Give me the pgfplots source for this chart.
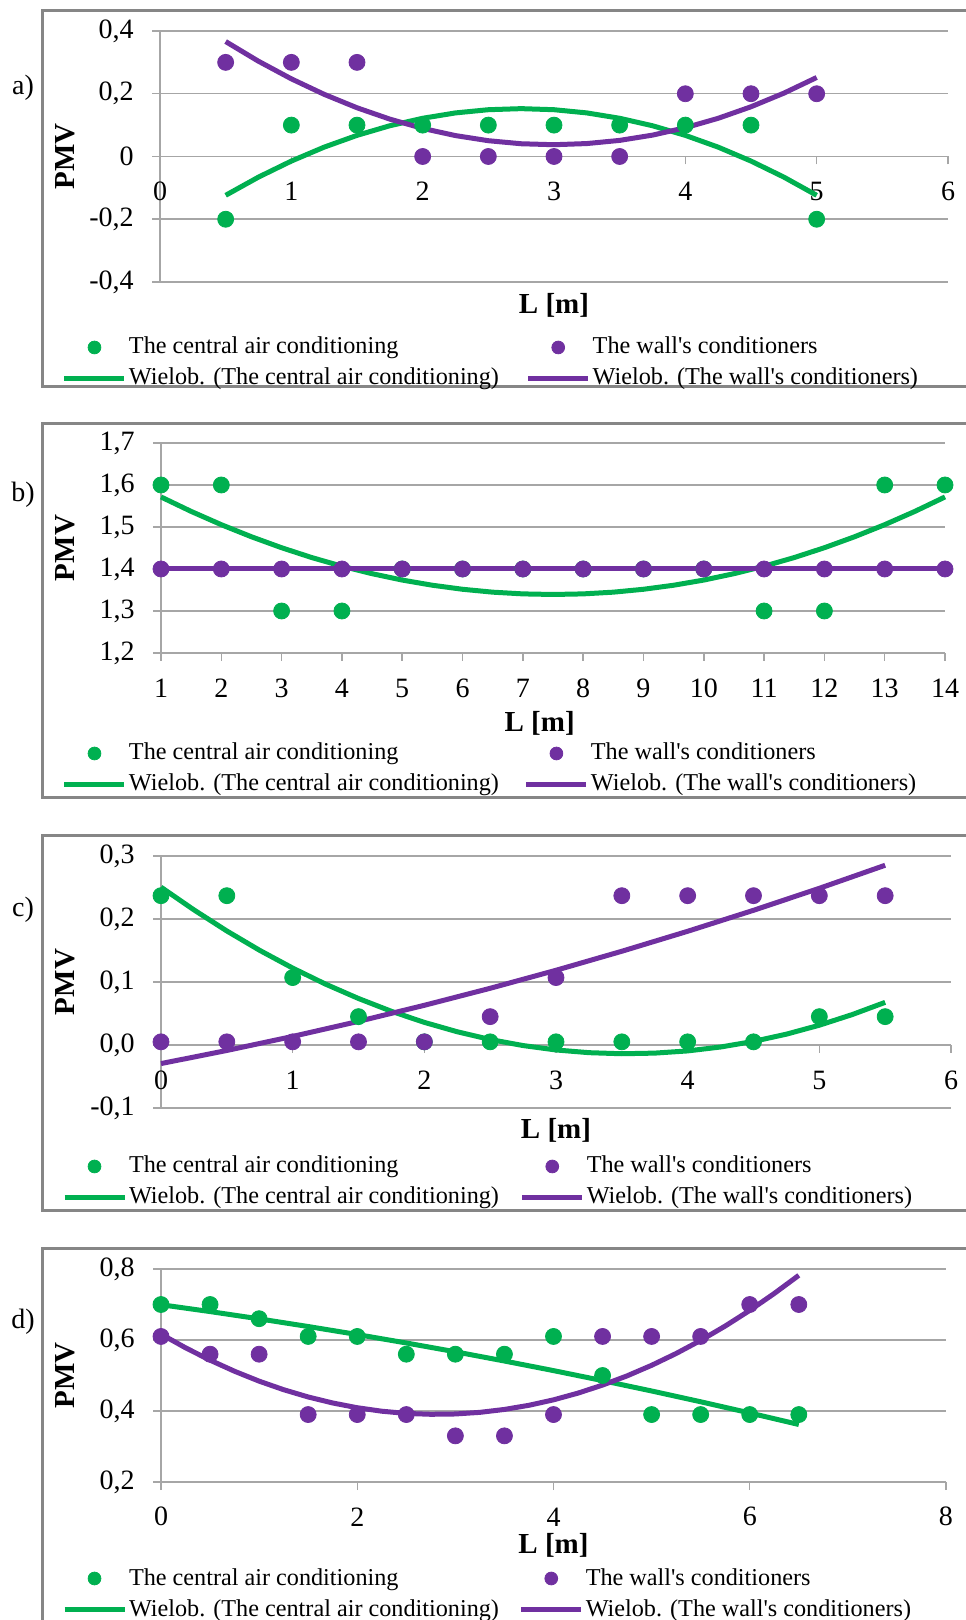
\documentclass[border=0pt]{standalone}
\usepackage{pgfplots}
\pgfplotsset{compat=1.18}
\usepackage{fontspec}
\setmainfont{Liberation Serif}
\definecolor{cgreen}{RGB}{0,176,80}
\definecolor{cpurple}{RGB}{112,48,160}
\definecolor{gridgray}{RGB}{166,166,166}
\definecolor{framegray}{RGB}{134,134,134}
\pgfplotsset{
 panel/.style={
  scale only axis, anchor=south west, clip=false,
  axis line style={draw=gridgray, line width=0.75pt, -},
  ymajorgrids, grid style={draw=gridgray, line width=0.75pt},
  tick align=outside, major tick length=4pt,
  major tick style={draw=gridgray, line width=0.75pt},
  minor tick num=0,
  tick label style={font=\fontsize{14}{16}\selectfont},
  yticklabel style={anchor=east, inner sep=0pt, xshift=-9pt},
  xticklabel style={anchor=center, inner sep=0pt},
  label style={font=\bfseries\fontsize{14.5}{16}\selectfont},
  xlabel style={inner sep=0pt},
  legend columns=2, legend cell align=left,
  legend image code/.code={\draw[mark repeat=2,mark phase=2,#1] plot coordinates {(0pt,0pt)(15pt,0pt)(30pt,0pt)};},
  legend style={draw=none, fill=none, inner sep=0pt, outer sep=0pt, anchor=north west,
    font=\fontsize{12.1}{14}\selectfont,
    nodes={inner sep=1pt, text height=10pt, text depth=3.5pt},
    row sep=0pt},
  hide obscured x ticks=false, hide obscured y ticks=false,
 },
 dots/.style={only marks, mark=*, mark size=4pt, legend image post style={mark size=3.2pt}},
 fit/.style={no marks, line width=2.5pt, line join=round},
 leg/.style={legend entries={The central air conditioning, The wall\textquotesingle s conditioners, Wielob. (The central air conditioning), Wielob. (The wall\textquotesingle s conditioners)}},
}
\begin{document}
\begin{tikzpicture}
\useasboundingbox (0,0) rectangle (482.5pt,810pt);
% frames
\draw[framegray, line width=1.5pt] (490pt,804.5pt) -- (21pt,804.5pt) -- (21pt,616.5pt) -- (490pt,616.5pt);
\draw[framegray, line width=1.5pt] (490pt,598pt) -- (21pt,598pt) -- (21pt,411pt) -- (490pt,411pt);
\draw[framegray, line width=1.5pt] (490pt,392pt) -- (21pt,392pt) -- (21pt,204.5pt) -- (490pt,204.5pt);
\draw[framegray, line width=1.5pt] (490pt,185.5pt) -- (21pt,185.5pt) -- (21pt,-10pt);
% panel letters
\node[font=\fontsize{14}{16}\selectfont] at (11.5pt,766pt) {a)};
\node[font=\fontsize{14}{16}\selectfont] at (11.5pt,562.5pt) {b)};
\node[font=\fontsize{14}{16}\selectfont] at (11.5pt,355pt) {c)};
\node[font=\fontsize{14}{16}\selectfont] at (11.5pt,149pt) {d)};

% ---------- a ----------
\begin{axis}[panel, leg, at={(80pt,669pt)}, width=394pt, height=125.5pt,
  xmin=0, xmax=6, ymin=-0.4, ymax=0.4,
  axis x line*=middle, axis y line*=left,
  xtick={0,1,2,3,4,5,6}, xticklabels={0,1,2,3,4,5,6},
  ytick={-0.4,-0.2,0,0.2,0.4}, yticklabels={{-0,4},{-0,2},{0},{0,2},{0,4}},
  xticklabel style={yshift=-13.5pt},
  xlabel={L [m]}, ylabel={PMV},
  xlabel style={at={(axis description cs:0.5,-0.0916)}, anchor=center},
  ylabel style={at={(axis description cs:-0.1206,0.5)}, anchor=center},
  legend style={at={(-0.1244,-0.1992)}, /tikz/every even column/.append style={column sep=12.4pt}},
]
\addplot[dots, cgreen] coordinates {(0.5,-0.2)(1,0.1)(1.5,0.1)(2,0.1)(2.5,0.1)(3,0.1)(3.5,0.1)(4,0.1)(4.5,0.1)(5,-0.2)};
\addplot[dots, cpurple] coordinates {(0.5,0.3)(1,0.3)(1.5,0.3)(2,0)(2.5,0)(3,0)(3.5,0)(4,0.2)(4.5,0.2)(5,0.2)};
\addplot[fit, cgreen] coordinates {(0.5,-0.1237)(0.75,-0.0657)(1,-0.0146)(1.25,0.0298)(1.5,0.0673)(1.75,0.0980)(2,0.1218)(2.25,0.1389)(2.5,0.1491)(2.75,0.1525)(3,0.1491)(3.25,0.1389)(3.5,0.1218)(3.75,0.0980)(4,0.0673)(4.25,0.0298)(4.5,-0.0146)(4.75,-0.0657)(5,-0.1237)};
\addplot[fit, cpurple] coordinates {(0.5,0.3664)(0.75,0.3036)(1,0.2475)(1.25,0.1981)(1.5,0.1553)(1.75,0.1191)(2,0.0895)(2.25,0.0666)(2.5,0.0503)(2.75,0.0406)(3,0.0375)(3.25,0.0412)(3.5,0.0513)(3.75,0.0681)(4,0.0917)(4.25,0.1217)(4.5,0.1585)(4.75,0.2018)(5,0.2518)};
\end{axis}

% ---------- b ----------
\begin{axis}[panel, leg, at={(80.5pt,483.5pt)}, width=392pt, height=105pt,
  xmin=1, xmax=14, ymin=1.2, ymax=1.7,
  axis x line*=bottom, axis y line*=left,
  xtick={1,...,14}, xticklabels={1,2,3,4,5,6,7,8,9,10,11,12,13,14},
  ytick={1.2,1.3,1.4,1.5,1.6,1.7}, yticklabels={{1,2},{1,3},{1,4},{1,5},{1,6},{1,7}},
  xticklabel style={yshift=-13.6pt},
  xlabel={L [m]}, ylabel={PMV},
  xlabel style={at={(axis description cs:0.483,-0.333)}, anchor=center},
  ylabel style={at={(axis description cs:-0.1224,0.5)}, anchor=center},
  legend style={at={(-0.1263,-0.4048)}, /tikz/every even column/.append style={column sep=11.5pt}},
]
\addplot[dots, cgreen] coordinates {(1,1.6)(2,1.6)(3,1.3)(4,1.3)(5,1.4)(6,1.4)(7,1.4)(8,1.4)(9,1.4)(10,1.4)(11,1.3)(12,1.3)(13,1.6)(14,1.6)};
\addplot[dots, cpurple] coordinates {(1,1.4)(2,1.4)(3,1.4)(4,1.4)(5,1.4)(6,1.4)(7,1.4)(8,1.4)(9,1.4)(10,1.4)(11,1.4)(12,1.4)(13,1.4)(14,1.4)};
\addplot[fit, cgreen] coordinates {(1,1.5715)(1.5,1.5371)(2,1.5055)(2.5,1.4767)(3,1.4506)(3.5,1.4272)(4,1.4066)(4.5,1.3888)(5,1.3736)(5.5,1.3613)(6,1.3517)(6.5,1.3448)(7,1.3407)(7.5,1.3393)(8,1.3407)(8.5,1.3448)(9,1.3517)(9.5,1.3613)(10,1.3736)(10.5,1.3888)(11,1.4066)(11.5,1.4272)(12,1.4506)(12.5,1.4767)(13,1.5055)(13.5,1.5371)(14,1.5715)};
\addplot[fit, cpurple] coordinates {(1,1.4)(14,1.4)};
\end{axis}

% ---------- c ----------
\begin{axis}[panel, leg, at={(80.5pt,256pt)}, width=395pt, height=126pt,
  xmin=0, xmax=6, ymin=-0.1, ymax=0.3,
  axis x line*=middle, axis y line*=left,
  xtick={0,1,2,3,4,5,6}, xticklabels={0,1,2,3,4,5,6},
  ytick={-0.1,0,0.1,0.2,0.3}, yticklabels={{-0,1},{0,0},{0,1},{0,2},{0,3}},
  xticklabel style={yshift=-13.5pt},
  xlabel={L [m]}, ylabel={PMV},
  xlabel style={at={(axis description cs:0.5,-0.0873)}, anchor=center},
  ylabel style={at={(axis description cs:-0.1215,0.5)}, anchor=center},
  legend style={at={(-0.1253,-0.1706)}, /tikz/every even column/.append style={column sep=9.4pt}},
]
\addplot[dots, cgreen] coordinates {(0,0.237)(0.5,0.237)(1,0.107)(1.5,0.045)(2,0.005)(2.5,0.005)(3,0.005)(3.5,0.005)(4,0.005)(4.5,0.005)(5,0.045)(5.5,0.045)};
\addplot[dots, cpurple] coordinates {(0,0.005)(0.5,0.005)(1,0.005)(1.5,0.005)(2,0.005)(2.5,0.045)(3,0.107)(3.5,0.237)(4,0.237)(4.5,0.237)(5,0.237)(5.5,0.237)};
\addplot[fit, cgreen] coordinates {(0,0.2505)(0.25,0.2145)(0.5,0.1810)(0.75,0.1502)(1,0.1221)(1.25,0.0966)(1.5,0.0738)(1.75,0.0535)(2,0.0359)(2.25,0.0210)(2.5,0.0087)(2.75,-0.0009)(3,-0.0079)(3.25,-0.0122)(3.5,-0.0139)(3.75,-0.0129)(4,-0.0094)(4.25,-0.0032)(4.5,0.0057)(4.75,0.0172)(5,0.0314)(5.25,0.0483)(5.5,0.0677)};
\addplot[fit, cpurple] coordinates {(0,-0.0295)(0.5,-0.0087)(1,0.0136)(1.5,0.0375)(2,0.0630)(2.5,0.0900)(3,0.1186)(3.5,0.1488)(4,0.1805)(4.5,0.2138)(5,0.2487)(5.5,0.2853)};
\end{axis}

% ---------- d ----------
\begin{axis}[panel, leg, at={(80.5pt,69pt)}, width=392.5pt, height=106.5pt,
  xmin=0, xmax=8, ymin=0.2, ymax=0.8,
  axis x line*=bottom, axis y line*=left,
  xtick={0,2,4,6,8}, xticklabels={0,2,4,6,8},
  ytick={0.2,0.4,0.6,0.8}, yticklabels={{0,2},{0,4},{0,6},{0,8}},
  xticklabel style={yshift=-13.4pt},
  xlabel={L [m]}, ylabel={PMV},
  xlabel style={at={(axis description cs:0.5,-0.2958)}, anchor=center},
  ylabel style={at={(axis description cs:-0.1223,0.5)}, anchor=center},
  legend style={at={(-0.1261,-0.3803)}, /tikz/every even column/.append style={column sep=8.9pt}},
]
\addplot[dots, cgreen] coordinates {(0,0.70)(0.5,0.70)(1,0.66)(1.5,0.61)(2,0.61)(2.5,0.56)(3,0.56)(3.5,0.56)(4,0.61)(4.5,0.50)(5,0.39)(5.5,0.39)(6,0.39)(6.5,0.39)};
\addplot[dots, cpurple] coordinates {(0,0.61)(0.5,0.56)(1,0.56)(1.5,0.39)(2,0.39)(2.5,0.39)(3,0.33)(3.5,0.33)(4,0.39)(4.5,0.61)(5,0.61)(5.5,0.61)(6,0.70)(6.5,0.70)};
\addplot[fit, cgreen] coordinates {(0,0.6994)(0.5,0.6801)(1,0.6596)(1.5,0.6380)(2,0.6154)(2.5,0.5916)(3,0.5668)(3.5,0.5408)(4,0.5138)(4.5,0.4856)(5,0.4564)(5.5,0.4260)(6,0.3945)(6.5,0.3620)};
\addplot[fit, cpurple] coordinates {(0,0.6166)(0.25,0.5781)(0.5,0.5432)(0.75,0.5119)(1,0.4841)(1.25,0.4600)(1.5,0.4395)(1.75,0.4226)(2,0.4092)(2.25,0.3994)(2.5,0.3932)(2.75,0.3907)(3,0.3916)(3.25,0.3962)(3.5,0.4044)(3.75,0.4161)(4,0.4314)(4.25,0.4504)(4.5,0.4730)(4.75,0.4990)(5,0.5287)(5.25,0.5620)(5.5,0.5989)(5.75,0.6393)(6,0.6834)(6.25,0.7311)(6.5,0.7822)};
\end{axis}
\end{tikzpicture}
\end{document}
